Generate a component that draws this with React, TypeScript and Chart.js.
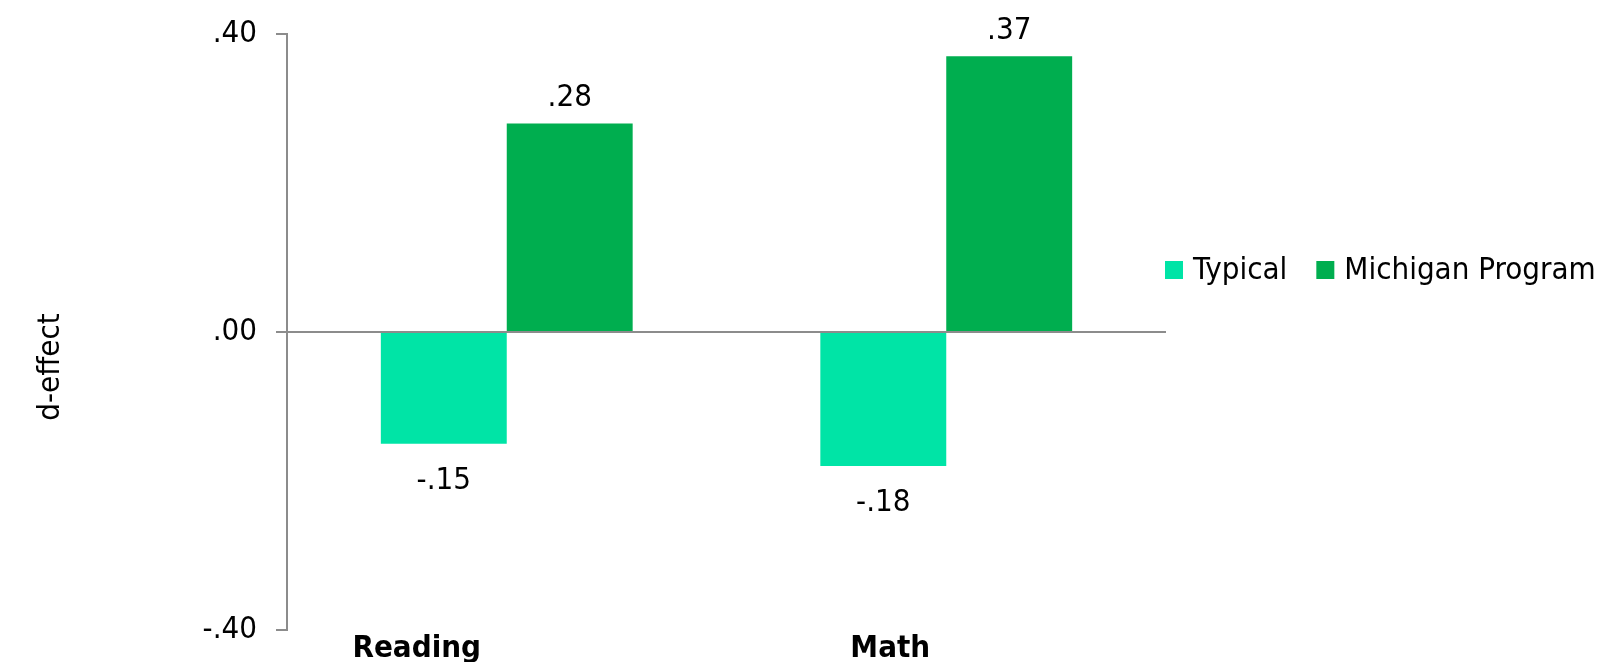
import React, { useEffect, useRef } from "react";
import { Chart, registerables } from "chart.js";

Chart.register(...registerables);

const categories = ["Reading", "Math"];
const seriesNames = ["Typical", "Michigan Program"];
const typicalValues = [-0.15, -0.18];
const michiganValues = [0.28, 0.37];
const yTicks = [-0.4, 0, 0.4];
const yTitle = "d-effect";

const COLORS = ["#00E4A6", "#00AE4F"];
const AXIS_GRAY = "#8C8C8C";
const FONT = "'DejaVu Sans Condensed', 'DejaVu Sans', sans-serif";
const FS = 31;
const W = 1600;
const H = 662;

const fmt = (v: number) => {
  const s = v.toFixed(2);
  return s.replace(/^(-?)0\./, "$1.");
};

// per-category horizontal shift of the category labels (layout)
const catShift = [-90, -56];

const overlayPlugin = {
  id: "overlay",
  afterDatasetsDraw(chart: any) {
    const ctx = chart.ctx;
    ctx.save();
    ctx.fillStyle = "#000";
    ctx.font = `${FS}px ${FONT}`;
    ctx.textAlign = "center";
    ctx.textBaseline = "alphabetic";
    chart.data.datasets.forEach((ds: any, di: number) => {
      const meta = chart.getDatasetMeta(di);
      meta.data.forEach((bar: any, i: number) => {
        const v = ds.data[i];
        const y = v >= 0 ? bar.y - 17 : bar.y + 45;
        ctx.fillText(fmt(v), bar.x, y);
      });
    });
    ctx.restore();
  },
  afterDraw(chart: any) {
    const ctx = chart.ctx;
    const xs = chart.scales.x;
    const area = chart.chartArea;
    ctx.save();
    // category labels
    ctx.fillStyle = "#000";
    ctx.font = `bold ${FS}px ${FONT}`;
    ctx.textAlign = "center";
    ctx.textBaseline = "alphabetic";
    chart.data.labels.forEach((lab: string, i: number) => {
      ctx.fillText(lab, xs.getPixelForValue(i) + catShift[i], area.bottom + 27);
    });
    // y title
    ctx.font = `${FS}px ${FONT}`;
    ctx.translate(51, 367);
    ctx.rotate(-Math.PI / 2);
    ctx.textAlign = "center";
    ctx.textBaseline = "middle";
    ctx.fillText(yTitle, 0, 0);
    ctx.restore();

    // legend
    ctx.save();
    ctx.font = `${FS}px ${FONT}`;
    ctx.textBaseline = "middle";
    ctx.textAlign = "left";
    let x = area.right - 1;
    const cy = 270;
    chart.data.datasets.forEach((ds: any) => {
      ctx.fillStyle = ds.backgroundColor;
      ctx.fillRect(x, cy - 9, 18, 18);
      ctx.fillStyle = "#000";
      ctx.fillText(ds.label, x + 28, cy + 1);
      x += 28 + ctx.measureText(ds.label).width + 29;
    });
    ctx.restore();
  },
};

export default function App() {
  const ref = useRef<HTMLCanvasElement>(null);
  useEffect(() => {
    if (!ref.current) return;
    const chart = new Chart(ref.current, {
      type: "bar",
      data: {
        labels: categories,
        datasets: [
          { label: seriesNames[0], data: typicalValues, backgroundColor: COLORS[0] },
          { label: seriesNames[1], data: michiganValues, backgroundColor: COLORS[1] },
        ],
      },
      options: {
        responsive: false,
        animation: false,
        layout: { padding: { left: 0, right: W - 1166, top: 34, bottom: 32 } },
        datasets: {
          bar: { categoryPercentage: 0.573, barPercentage: 1, borderWidth: 0 },
        },
        plugins: {
          legend: { display: false },
          tooltip: { enabled: false },
          title: { display: false },
        },
        scales: {
          x: {
            display: false,
          },
          y: {
            min: -0.4,
            max: 0.4,
            afterFit: (s: any) => {
              s.width = 287;
              s.paddingTop = 0;
              s.paddingBottom = 0;
            },
            afterBuildTicks: (s: any) => {
              s.ticks = yTicks.map((v) => ({ value: v }));
            },
            ticks: {
              padding: 19,
              color: "#000",
              font: { family: FONT, size: FS },
              callback: (v: any) => fmt(Number(v)),
            },
            grid: {
              drawOnChartArea: true,
              color: (c: any) => (c.tick && c.tick.value === 0 ? AXIS_GRAY : "rgba(0,0,0,0)"),
              tickColor: AXIS_GRAY,
              tickLength: 11,
              lineWidth: 2,
            },
            border: { display: true, color: AXIS_GRAY, width: 2 },
          },
        },
      },
      plugins: [overlayPlugin],
    });
    return () => chart.destroy();
  }, []);
  return (
    <div style={{ position: "absolute", left: 0, top: 0, width: W, height: H }}>
      <canvas ref={ref} width={W} height={H} style={{ display: "block" }} />
    </div>
  );
}
